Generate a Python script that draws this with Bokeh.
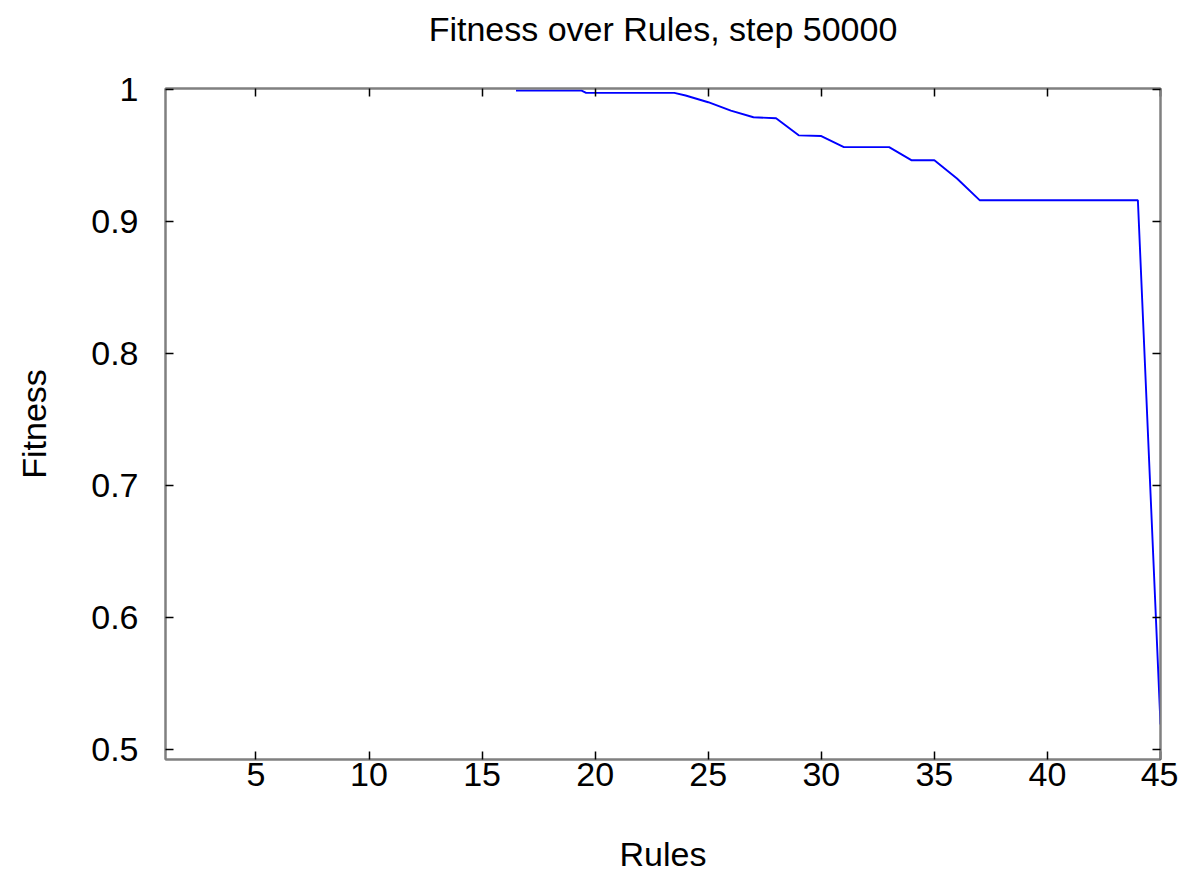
from bokeh.plotting import figure
from bokeh.models import Range1d, FixedTicker, LinearAxis
from bokeh.embed import file_html
from bokeh.resources import INLINE

rules = [16.5, 19.4, 19.6, 23.5, 24, 25, 26, 27, 28, 29, 30, 31, 32, 33, 34, 35, 36, 37, 38, 39, 40, 41, 42, 43, 44, 45]
fitness = [0.9992, 0.9992, 0.9975, 0.9975, 0.9955, 0.9904, 0.984, 0.979, 0.9783, 0.9653, 0.9648, 0.9564, 0.9564, 0.9564,
           0.9464, 0.9464, 0.9326, 0.9162, 0.9162, 0.9162, 0.9162, 0.9162, 0.9162, 0.9162, 0.9162, 0.519]

x_ticks = [5, 10, 15, 20, 25, 30, 35, 40, 45]
y_ticks = [0.5, 0.6, 0.7, 0.8, 0.9, 1.0]
y_labels = ["0.5", "0.6", "0.7", "0.8", "0.9", "1"]

title_text = "Fitness over Rules, step 50000"
x_label = "Rules"
y_label = "Fitness"

FONT = "Liberation Sans"
FS = "34px"
W, H = 1178, 875
FL, FR, FT, FB = 165, 1160, 88, 760  # frame edges in canvas pixels
L, R, T, B = FL, W - FR, FT, H - FB

p = figure(width=W, height=H, output_backend="svg", toolbar_location=None, title=None,
           x_range=Range1d(1, 45), y_range=Range1d(0.4925, 1.0008),
           x_axis_type=None, y_axis_type=None,
           min_border_left=L, min_border_right=R, min_border_top=T, min_border_bottom=B)
p.grid.visible = False
p.outline_line_color = "#808080"
p.outline_line_width = 2
p.background_fill_color = "white"
p.border_fill_color = "white"


def style(ax, labels=True):
    ax.axis_line_color = "#808080"
    ax.axis_line_width = 2
    ax.major_tick_in = 8
    ax.major_tick_out = 0
    ax.major_tick_line_color = "black"
    ax.major_tick_line_width = 1.5
    ax.minor_tick_line_color = None
    ax.major_label_text_font = FONT
    ax.major_label_text_font_size = FS
    ax.major_label_text_color = "black" if labels else None
    ax.axis_label_text_font = FONT
    ax.axis_label_text_font_size = FS
    ax.axis_label_text_font_style = "normal"
    ax.axis_label_text_color = "black"


xb = LinearAxis(ticker=FixedTicker(ticks=x_ticks), axis_label=x_label)
style(xb)
xb.major_label_standoff = 3
xb.axis_label_standoff = 46
p.add_layout(xb, "below")

yl = LinearAxis(ticker=FixedTicker(ticks=y_ticks), axis_label=y_label)
style(yl)
yl.major_label_standoff = 27
yl.axis_label_standoff = 35
yl.major_label_overrides = {v: s for v, s in zip(y_ticks, y_labels)}
p.add_layout(yl, "left")

# top axis: mirrored ticks, carries the chart title as its label
xt = LinearAxis(ticker=FixedTicker(ticks=x_ticks), axis_label=title_text)
style(xt, labels=False)
xt.major_label_text_font_size = "0px"
xt.major_label_standoff = 0
xt.axis_label_standoff = 41
p.add_layout(xt, "above")

yr = LinearAxis(ticker=FixedTicker(ticks=y_ticks))
style(yr, labels=False)
yr.major_label_text_font_size = "0px"
yr.major_label_standoff = 0
p.add_layout(yr, "right")

p.line(rules, fitness, line_color="#0000ff", line_width=1.9)

open("out.html", "w").write(file_html(p, INLINE))
